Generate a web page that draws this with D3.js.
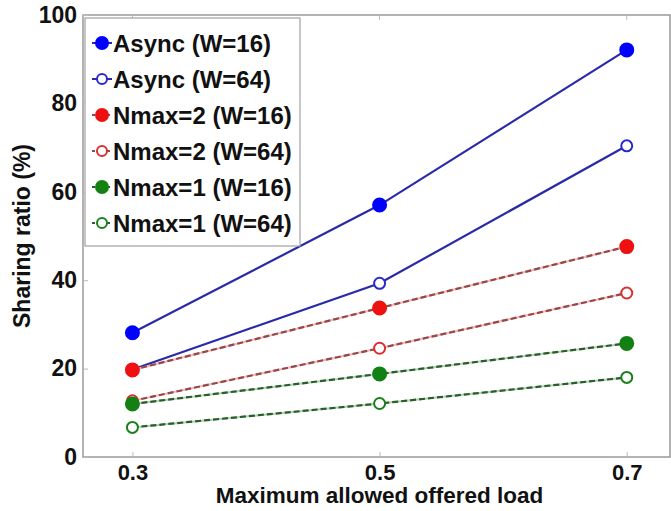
<!DOCTYPE html>
<html>
<head>
<meta charset="utf-8">
<script src="https://cdn.jsdelivr.net/npm/d3@7"></script>
<style>
  body { margin: 0; background: #fff; }
  text { font-family: "Liberation Sans", Arial, sans-serif; font-weight: bold; fill: #111; }
</style>
</head>
<body>
<div id="chart"></div>
<script>
// data
const loads = [0.3, 0.5, 0.7]
const asyncW16 = [28.1, 57.0, 92.1]
const asyncW64 = [19.8, 39.3, 70.4]
const nmax2W16 = [19.7, 33.7, 47.6]
const nmax2W64 = [12.7, 24.6, 37.1]
const nmax1W16 = [12.0, 18.8, 25.7]
const nmax1W64 = [6.7, 12.1, 18.0]
const yTicks = [0, 20, 40, 60, 80, 100]
const seriesNames = ['Async (W=16)', 'Async (W=64)', 'Nmax=2 (W=16)', 'Nmax=2 (W=64)', 'Nmax=1 (W=16)', 'Nmax=1 (W=64)']

const width = 671,
  height = 511,
  margin = {top: 15, right: 1, bottom: 54, left: 83}

const series = [
  {name: seriesNames[0], values: asyncW16, color: '#2a2aa8', marker: '#0000ff', filled: true, dash: null},
  {name: seriesNames[1], values: asyncW64, color: '#2a2aa8', marker: '#2a2acc', filled: false, dash: null},
  {name: seriesNames[2], values: nmax2W16, color: '#944848', marker: '#ee1111', filled: true, dash: '6,3', under: '#f4b4b4'},
  {name: seriesNames[3], values: nmax2W64, color: '#944848', marker: '#d83030', filled: false, dash: '6,3', under: '#f4b4b4'},
  {name: seriesNames[4], values: nmax1W16, color: '#2f5a2f', marker: '#138013', filled: true, dash: '6,3', under: '#a8d8a8'},
  {name: seriesNames[5], values: nmax1W64, color: '#2f5a2f', marker: '#1a801a', filled: false, dash: '6,3', under: '#a8d8a8'}
]

let svg = d3.select('#chart')
  .append('svg')
  .attr('width', width)
  .attr('height', height)

const x = d3.scaleLinear().domain([0.26, 0.735]).range([margin.left, width - margin.right])
const y = d3.scaleLinear().domain([0, 100]).range([height - margin.bottom, margin.top])

// box
svg.append('rect')
  .attr('x', margin.left)
  .attr('y', margin.top)
  .attr('width', width - margin.right - margin.left)
  .attr('height', height - margin.bottom - margin.top)
  .attr('fill', 'none')
  .attr('stroke', '#9a9a9a')
  .attr('stroke-width', 1.5)

// x axis
let xAxis = svg.append('g')
  .attr('transform', 'translate(0,' + (height - margin.bottom) + ')')
  .call(d3.axisBottom(x).tickValues(loads).tickSize(-5).tickPadding(7).tickFormat(d3.format('.1f')))
xAxis.select('.domain').remove()
xAxis.selectAll('line').attr('stroke', '#bbb')
xAxis.selectAll('text').style('font-size', '22px').attr('fill', '#111')

// y axis
let yAxis = svg.append('g')
  .attr('transform', 'translate(' + margin.left + ',0)')
  .call(d3.axisLeft(y).tickValues(yTicks).tickSize(-5).tickPadding(6))
yAxis.select('.domain').remove()
yAxis.selectAll('line').attr('stroke', '#bbb')
yAxis.selectAll('text').style('font-size', '23px').attr('fill', '#111')

// top ticks
svg.selectAll('.topTick')
  .data(loads)
  .enter()
  .append('line')
  .attr('x1', d => x(d)).attr('x2', d => x(d))
  .attr('y1', margin.top).attr('y2', margin.top + 5)
  .attr('stroke', '#bbb')

// axis titles
svg.append('text')
  .attr('x', x(0.5))
  .attr('y', height - 8)
  .style('text-anchor', 'middle')
  .style('font-size', '22.5px')
  .text('Maximum allowed offered load')

svg.append('text')
  .attr('transform', 'rotate(-90)')
  .attr('x', -y(50))
  .attr('y', 30)
  .style('text-anchor', 'middle')
  .style('font-size', '23px')
  .text('Sharing ratio (%)')

const line = d3.line()
  .x((d, i) => x(loads[i]))
  .y(d => y(d))

// lines
series.forEach(s => {
  if (s.under) {
    svg.append('path')
      .datum(s.values)
      .attr('d', line)
      .attr('fill', 'none')
      .attr('stroke', s.under)
      .attr('stroke-width', 2)
  }
  svg.append('path')
    .datum(s.values)
    .attr('d', line)
    .attr('fill', 'none')
    .attr('stroke', s.color)
    .attr('stroke-width', 2.2)
    .attr('stroke-dasharray', s.dash)
})

// markers
series.forEach(s => {
  svg.selectAll(null)
    .data(s.values)
    .enter()
    .append('circle')
    .attr('cx', (d, i) => x(loads[i]))
    .attr('cy', d => y(d))
    .attr('r', s.filled ? 6.5 : 5.5)
    .attr('fill', s.filled ? s.marker : '#fff')
    .attr('stroke', s.marker)
    .attr('stroke-width', 2)
})

// legend
let legend = svg.append('g')
legend.append('rect')
  .attr('x', 85)
  .attr('y', 18)
  .attr('width', 215)
  .attr('height', 228)
  .attr('fill', '#fff')
  .attr('stroke', '#a0a0a0')
  .attr('stroke-width', 1.2)

let items = legend.selectAll('.item')
  .data(series)
  .enter()
  .append('g')
  .attr('transform', (d, i) => 'translate(0,' + (43 + i * 36) + ')')

items.append('line')
  .attr('x1', 92).attr('x2', 112)
  .attr('stroke', d => d.color)
  .attr('stroke-width', 2)
  .attr('stroke-dasharray', d => d.dash ? '3,2' : null)

items.append('circle')
  .attr('cx', 102)
  .attr('r', d => d.filled ? 6 : 5)
  .attr('fill', d => d.filled ? d.marker : '#fff')
  .attr('stroke', d => d.marker)
  .attr('stroke-width', 2)

items.append('text')
  .attr('x', 113)
  .attr('dy', '0.36em')
  .style('font-size', '24px')
  .text(d => d.name)
</script>
</body>
</html>
